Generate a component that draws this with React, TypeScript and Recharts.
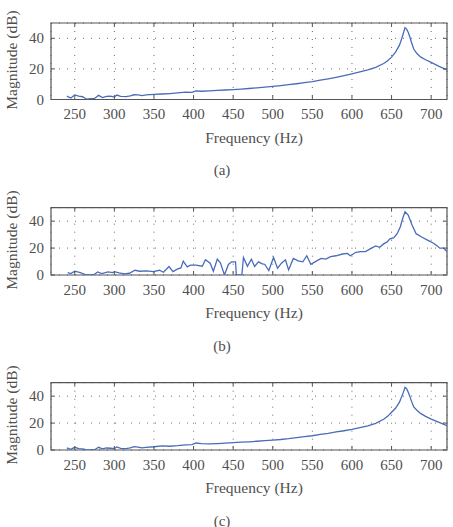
import React from "react";
import { LineChart, Line, XAxis, YAxis, CartesianGrid, ReferenceArea } from "recharts";

// Frequency grid shared by the two smooth responses (Hz)
const freqSmooth = [
  240, 245, 250, 255, 260, 265, 270, 275, 280, 285,
  290, 295, 300, 303, 308, 315, 320, 325, 330, 335,
  340, 350, 360, 370, 380, 390, 398, 403, 410, 420,
  430, 440, 450, 460, 470, 480, 490, 500, 510, 520,
  530, 540, 550, 560, 570, 580, 590, 600, 610, 620,
  630, 640, 645, 650, 655, 660, 663, 665, 667, 669,
  671, 673, 675, 678, 682, 687, 693, 700, 710, 720,
];

// (a) magnitude response (dB)
const magA = [
  2.2, 1, 3, 2.2, 1.8, 0.2, 0.5, 0.7, 2.7, 1.3,
  2.1, 2.2, 1.6, 2.9, 2, 1.9, 2.3, 3.1, 3, 2.6,
  3, 3.3, 3.6, 3.9, 4.3, 4.8, 4.6, 5.6, 5.4, 5.6,
  5.9, 6.2, 6.5, 6.8, 7.2, 7.6, 8.1, 8.6, 9.1, 9.7,
  10.3, 11, 11.7, 12.6, 13.5, 14.5, 15.6, 16.8, 18, 19.3,
  21, 23.5, 25.3, 27.7, 31, 35.5, 40, 43.5, 47, 46,
  44, 41, 37.6, 33, 30, 27.7, 26, 24.3, 21.7, 19.3,
];

// (c) magnitude response (dB)
const magC = [
  1.5, 0.5, 2, 1, 0.8, 0, 0, 0.2, 2, 0.8,
  1.5, 1.3, 1, 2.3, 1.2, 1, 1.5, 2.5, 2.2, 1.6,
  2, 2.4, 3, 2.8, 3.2, 3.8, 4, 5.2, 4.7, 4.5,
  4.8, 5.1, 5.5, 5.8, 6.1, 6.5, 6.9, 7.4, 7.8, 8.4,
  9.2, 9.9, 10.6, 11.6, 12.4, 13.4, 14.3, 15.3, 16.6, 18,
  19.8, 22.8, 25, 28, 31, 35.5, 40, 43, 46.5, 45.5,
  43, 40, 36.5, 32, 29.5, 27, 25, 23, 20.5, 18,
];

// (b) noisy measured response
const freqB = [
  241, 245, 250, 257, 264, 270, 274, 279, 284, 292,
  298, 300, 306, 313, 319, 326, 332, 341, 349, 357,
  362, 369, 374, 380, 384, 387, 392, 396, 403, 411,
  415, 421, 425, 430, 434, 439, 444, 448, 453, 454,
  461, 463, 468, 473, 477, 482, 486, 490, 495, 501,
  506, 511, 516, 520, 526, 532, 538, 543, 548, 555,
  561, 567, 573, 580, 588, 594, 598, 605, 611, 617,
  623, 630, 635, 640, 644, 648, 653, 657, 661, 664,
  667, 671, 676, 681, 688, 696, 703, 707, 711, 716,
  720,
];
const magB = [
  1.8, 1, 2.8, 1.8, 0.2, 0, 0.2, 2.3, 1, 2.3,
  1.8, 2.5, 1.5, 0.8, 1.3, 3.5, 2.8, 3, 2.5, 3.5,
  2, 6.3, 2.5, 4.5, 5.3, 10.3, 6, 7.3, 7.3, 6.5,
  11.3, 8.8, 2.8, 11.8, 8.8, 0, 7.8, 9.8, 9.8, 0,
  0, 13, 6.5, 11.8, 6.3, 9.8, 8.5, 7.8, 3.3, 13,
  5, 8.8, 11.3, 3.8, 12.3, 10.5, 9.8, 14.3, 8, 10.3,
  12.3, 11.8, 13.6, 14.3, 15.6, 16, 14.3, 16.9, 17.4, 17.4,
  19.4, 21.6, 20.6, 23.1, 24.4, 26.9, 27.7, 30.7, 35.7, 42,
  47, 44.5, 37, 30.7, 28.2, 25.7, 23.6, 21.9, 19.9, 19.9,
  17.4,
];

const xTicks = [250, 300, 350, 400, 450, 500, 550, 600, 650, 700];
const yTicks = [0, 20, 40];
const xDomain = [220, 720];
const yDomain = [0, 50];

const FONT = '"Liberation Serif", "Times New Roman", serif';
const TEXT = "#4f4f4f";
const FRAME = "#555555";
const LINE = "#4a6cb8";
const W = 453;
const PLOT_LEFT = 51;
const PLOT_RIGHT = 447;
const PLOT_W = PLOT_RIGHT - PLOT_LEFT;
const X_AXIS_H = 30;
const Y_AXIS_W = 20;

const zip = (f: number[], m: number[]) => f.map((v, i) => ({ f: v, m: m[i] }));

type PanelProps = {
  top: number;
  height: number;
  plotTop: number;
  plotBottom: number;
  data: { f: number; m: number }[];
  caption: string;
};

function Panel({ top, height, plotTop, plotBottom, data, caption }: PanelProps) {
  const plotH = plotBottom - plotTop;

  const XTick = (p: any) => {
    const { x, y, payload } = p;
    return (
      <g>
        <line x1={x} x2={x} y1={y} y2={y - 4} stroke={FRAME} strokeWidth={1} />
        <line x1={x} x2={x} y1={y - plotH} y2={y - plotH + 4} stroke={FRAME} strokeWidth={1} />
        <text x={x} y={y + 19.5} textAnchor="middle" fill={TEXT} fontSize={15} style={{ fontFamily: FONT }}>
          {payload.value}
        </text>
      </g>
    );
  };

  const YTick = (p: any) => {
    const { x, y, payload } = p;
    return (
      <g>
        <line x1={x} x2={x + 4} y1={y} y2={y} stroke={FRAME} strokeWidth={1} />
        <line x1={x + PLOT_W} x2={x + PLOT_W - 4} y1={y} y2={y} stroke={FRAME} strokeWidth={1} />
        <text x={x - 7} y={y + 5} textAnchor="end" fill={TEXT} fontSize={15} style={{ fontFamily: FONT }}>
          {payload.value}
        </text>
      </g>
    );
  };

  const textStyle: React.CSSProperties = {
    position: "absolute",
    height: 20,
    lineHeight: "20px",
    textAlign: "center",
    fontFamily: FONT,
    color: TEXT,
    whiteSpace: "nowrap",
  };

  return (
    <div style={{ position: "absolute", left: 0, top, width: W, height, fontFamily: FONT }}>
      <LineChart
        width={W}
        height={height}
        data={data}
        margin={{
          top: plotTop - top,
          bottom: top + height - plotBottom - X_AXIS_H,
          left: PLOT_LEFT - Y_AXIS_W,
          right: W - PLOT_RIGHT,
        }}
      >
        <CartesianGrid stroke="#6a6a6a" strokeDasharray="1 7" strokeWidth={1} />
        <XAxis
          dataKey="f"
          type="number"
          domain={xDomain}
          ticks={xTicks}
          interval={0}
          height={X_AXIS_H}
          tickSize={0}
          tickMargin={0}
          axisLine={false}
          tickLine={false}
          tick={XTick}
          allowDataOverflow
        />
        <YAxis
          type="number"
          domain={yDomain}
          ticks={yTicks}
          interval={0}
          width={Y_AXIS_W}
          tickSize={0}
          tickMargin={0}
          axisLine={false}
          tickLine={false}
          tick={YTick}
          allowDataOverflow
        />
        <Line
          type="linear"
          dataKey="m"
          stroke={LINE}
          strokeWidth={1.3}
          dot={false}
          isAnimationActive={false}
        />
        <ReferenceArea
          x1={xDomain[0]}
          x2={xDomain[1]}
          y1={yDomain[0]}
          y2={yDomain[1]}
          fill="none"
          stroke={FRAME}
          strokeWidth={1.2}
          fillOpacity={0}
          ifOverflow="visible"
        />
      </LineChart>
      <div
        style={{
          ...textStyle,
          left: 12 - 60,
          top: (plotTop + plotBottom) / 2 - top - 1 - 10,
          width: 120,
          transform: "rotate(-90deg)",
          fontSize: 15.5,
        }}
      >
        Magnitude (dB)
      </div>
      <div style={{ ...textStyle, left: 254 - 80, top: plotBottom - top + 38 - 10, width: 160, fontSize: 15.5 }}>
        Frequency (Hz)
      </div>
      <div style={{ ...textStyle, left: 222 - 30, top: plotBottom - top + 70.5 - 10, width: 60, fontSize: 15 }}>
        {caption}
      </div>
    </div>
  );
}

export default function App() {
  return (
    <div style={{ position: "absolute", left: 0, top: 0, width: W, height: 527, background: "#fff" }}>
      <Panel top={0} height={180} plotTop={23} plotBottom={99.5} data={zip(freqSmooth, magA)} caption="(a)" />
      <Panel top={180} height={175} plotTop={207.7} plotBottom={275} data={zip(freqB, magB)} caption="(b)" />
      <Panel top={355} height={172} plotTop={382.7} plotBottom={450} data={zip(freqSmooth, magC)} caption="(c)" />
    </div>
  );
}
